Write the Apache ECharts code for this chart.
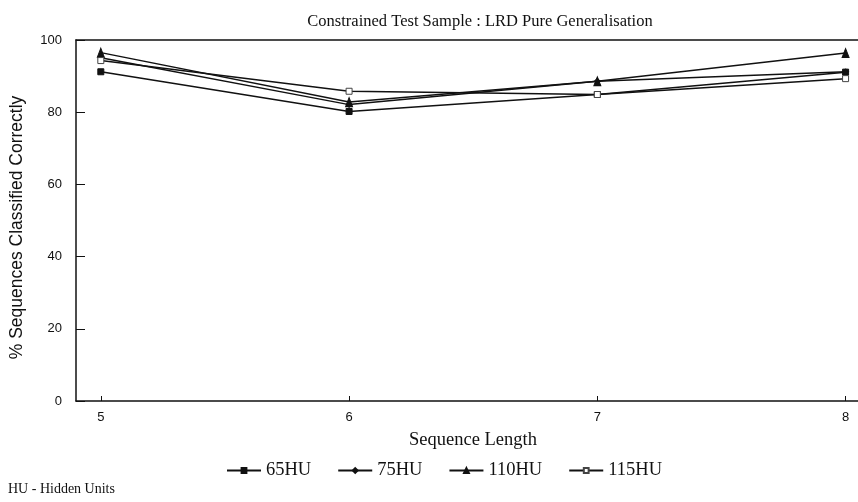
<!DOCTYPE html>
<html>
<head>
<meta charset="utf-8">
<script src="https://cdn.jsdelivr.net/npm/echarts@6/dist/echarts.min.js"></script>
<style>
  html, body { margin: 0; padding: 0; background: #fff; }
  #chart { width: 858px; height: 502px; }
</style>
</head>
<body>
<div id="chart"></div>
<script>
// sequence lengths on the x axis
const seqLengths = [5, 6, 7, 8];
const yTicks = [0, 20, 40, 60, 80, 100];

// % classified correctly, one array per network size
const hu65 = [91.2, 80.2, 84.9, 91.1];
const hu75 = [95.1, 82.1, 88.6, 91.2];
const hu110 = [96.5, 82.8, 88.6, 96.4];
const hu115 = [94.3, 85.8, 84.9, 89.3];

const seriesNames = ["65HU", "75HU", "110HU", "115HU"];
const seriesValues = [hu65, hu75, hu110, hu115];
const seriesSymbols = ["rect", "diamond", "triangle", "rect"];

const serif = "'Liberation Serif', 'DejaVu Serif', serif";
const sans = "'Liberation Sans', Arial, sans-serif";

const chart = echarts.init(document.getElementById("chart"));

const series = seriesNames.map(function (name, i) {
  return {
    name: name,
    type: "line",
    data: seqLengths.map(function (x, j) { return [x, seriesValues[i][j]]; }),
    symbol: seriesSymbols[i],
    symbolSize: i === 2 ? [7, 9] : 6,
    showSymbol: true,
    lineStyle: { color: "#111", width: 1.5 },
    itemStyle: {
      color: i === 3 ? "#fff" : "#111",
      borderColor: i === 3 ? "#444" : "#111",
      borderWidth: 1
    },
    animation: false
  };
});

chart.setOption({
  animation: false,
  backgroundColor: "#fff",
  title: {
    text: "Constrained Test Sample : LRD Pure Generalisation",
    left: 475,
    textAlign: "center",
    top: 8,
    textStyle: { fontFamily: serif, fontSize: 16.5, fontWeight: "normal", color: "#111" }
  },
  legend: {
    data: seriesNames,
    left: 221,
    top: 456,
    itemWidth: 34,
    itemHeight: 6,
    itemGap: 26,
    textStyle: { fontFamily: serif, fontSize: 18.5, color: "#111" }
  },
  grid: { left: 76, right: 0, top: 40, bottom: 101 },
  xAxis: [{
    type: "value",
    min: 4.9,
    max: 8.05,
    name: "Sequence Length",
    nameLocation: "middle",
    nameGap: 30,
    nameTextStyle: { fontFamily: serif, fontSize: 18.5, color: "#111", padding: [0, 0, 0, 12] },
    axisLine: { show: true, lineStyle: { color: "#111", width: 1.5 } },
    axisTick: { show: true, inside: true, length: 5, customValues: seqLengths, lineStyle: { color: "#111" } },
    axisLabel: { customValues: seqLengths, margin: 10, fontFamily: sans, fontSize: 13, color: "#111" },
    splitLine: { show: false }
  }, {
    type: "value",
    position: "top",
    min: 4.9,
    max: 8.05,
    axisLine: { show: true, lineStyle: { color: "#111", width: 1.5 } },
    axisTick: { show: false },
    axisLabel: { show: false },
    splitLine: { show: false }
  }],
  yAxis: {
    type: "value",
    min: 0,
    max: 100,
    interval: 20,
    name: "% Sequences Classified Correctly",
    nameLocation: "middle",
    nameRotate: 90,
    nameGap: 50,
    nameTextStyle: { fontFamily: sans, fontSize: 17.5, color: "#111", padding: [0, 14, 0, 0] },
    axisLine: { show: true, lineStyle: { color: "#111", width: 1.5 } },
    axisTick: { show: true, inside: true, length: 9, customValues: yTicks, lineStyle: { color: "#111" } },
    axisLabel: { customValues: yTicks, margin: 14, fontFamily: sans, fontSize: 13, color: "#111" },
    splitLine: { show: false }
  },
  graphic: [{
    type: "text",
    left: 8,
    top: 482,
    style: { text: "HU - Hidden Units", font: "14px " + serif, fill: "#111" }
  }],
  series: series
});
</script>
</body>
</html>
